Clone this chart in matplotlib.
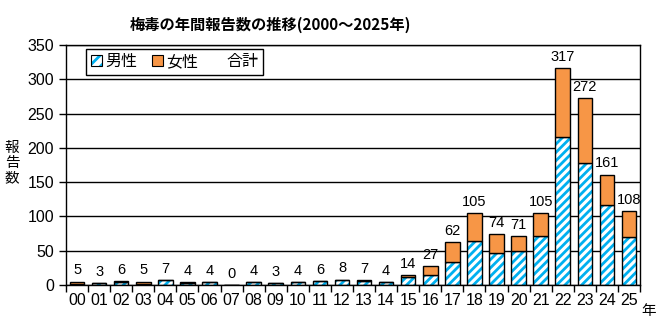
import matplotlib
matplotlib.use("Agg")
import matplotlib.pyplot as plt
from matplotlib.patches import Patch
from matplotlib.legend_handler import HandlerTuple

plt.rcParams['font.family'] = ['Liberation Sans', 'Noto Sans CJK JP']
plt.rcParams['hatch.linewidth'] = 2.0

years = ["00", "01", "02", "03", "04", "05", "06", "07", "08", "09", "10", "11", "12",
         "13", "14", "15", "16", "17", "18", "19", "20", "21", "22", "23", "24", "25"]
male = [2, 3, 4, 1, 7, 3, 4, 0, 4, 3, 4, 6, 8, 6, 4, 11, 14, 33, 64, 47, 50, 71, 216, 178, 117, 70]
female = [3, 0, 2, 4, 0, 1, 0, 0, 0, 0, 0, 0, 0, 1, 0, 3, 13, 29, 41, 27, 21, 34, 101, 94, 44, 38]
total = [5, 3, 6, 5, 7, 4, 4, 0, 4, 3, 4, 6, 8, 7, 4, 14, 27, 62, 105, 74, 71, 105, 317, 272, 161, 108]

cyan = "#00B0F0"
orange = "#F79646"

fig = plt.figure(figsize=(6.62, 3.25), dpi=100)
ax = fig.add_axes([66 / 662, 40 / 325, 574 / 662, 240 / 325])

x = list(range(len(years)))
w = 0.66
# male: hatched fill, then black outline
ax.bar(x, male, w, color="white", hatch="////", edgecolor=cyan, linewidth=0, zorder=2)
ax.bar(x, male, w, fill=False, edgecolor="black", linewidth=1, zorder=3)
ax.bar(x, female, w, bottom=male, color=orange, edgecolor="black", linewidth=1, zorder=3)

for xi, t in zip(x, total):
    ax.text(xi, t + 6, str(t), ha="center", va="bottom", fontsize=10.5)

ax.set_xlim(-0.5, len(years) - 0.5)
ax.set_ylim(0, 350)
ax.set_yticks(range(0, 351, 50))
ax.yaxis.grid(True, color="black", linewidth=1)
ax.set_axisbelow(True)
ax.set_xticks(x)
ax.set_xticklabels(years, fontsize=11.5)
ax.set_xticks([i - 0.5 for i in range(len(years) + 1)], minor=True)
ax.tick_params(axis="x", which="major", length=0, pad=6)
ax.tick_params(axis="x", which="minor", length=5, width=1, direction="out")
ax.tick_params(axis="y", labelsize=11.5, length=5, width=1, direction="out")
for s in ax.spines.values():
    s.set_linewidth(1)
    s.set_color("black")

fig.text(270 / 662, 1 - 25 / 325, "梅毒の年間報告数の推移(2000～2025年)",
         ha="center", va="center", fontsize=11, fontweight="bold",
         family=["Noto Sans CJK JP"])
fig.text(12 / 662, 1 - 163 / 325, "報\n告\n数", ha="center", va="center",
         fontsize=10.5, family=["Noto Sans CJK JP"], linespacing=1.1)
fig.text(649 / 662, 1 - 311 / 325, "年", ha="center", va="center",
         fontsize=10.5, family=["Noto Sans CJK JP"])

male_h = (Patch(facecolor="white", hatch="///", edgecolor=cyan, linewidth=0),
          Patch(facecolor="none", edgecolor="black", linewidth=0.8))
handles = [male_h,
           Patch(facecolor=orange, edgecolor="black", linewidth=0.8),
           Patch(facecolor="none", edgecolor="none")]
leg = ax.legend(handles, ["男性", "女性", "合計"], loc="upper left",
                bbox_to_anchor=(20 / 574, 0.985), ncol=3, frameon=True,
                fancybox=False, edgecolor="black", framealpha=1,
                handler_map={tuple: HandlerTuple(ndivide=1, pad=0)},
                prop={"family": "Noto Sans CJK JP", "size": 11.5},
                handlelength=0.7, handleheight=0.7, handletextpad=0.2,
                columnspacing=0.9, borderpad=0.3, borderaxespad=0)
leg.get_frame().set_linewidth(1)

fig.savefig("out.png", dpi=100)
